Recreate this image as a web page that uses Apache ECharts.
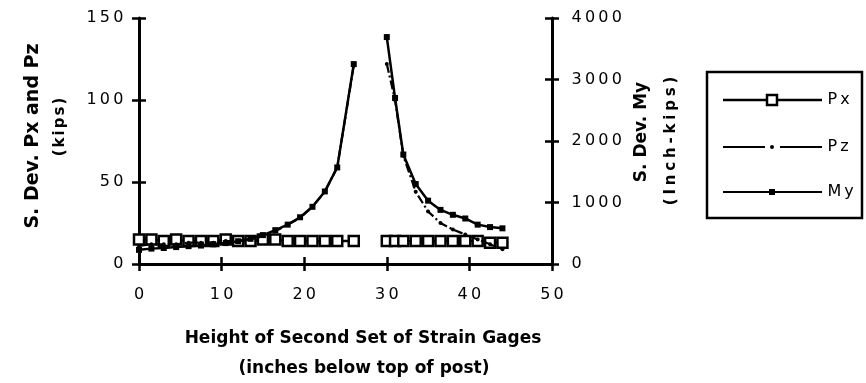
<!DOCTYPE html>
<html>
<head>
<meta charset="utf-8">
<script src="https://cdn.jsdelivr.net/npm/echarts@6/dist/echarts.min.js"></script>
<style>
  html, body { margin: 0; padding: 0; background: #fff; }
  #chart { width: 866px; height: 383px; }
</style>
</head>
<body>
<div id="chart"></div>
<script>
// Gage heights (inches below top of post), in two runs either side of the gap
var heightsLeft  = [0, 1.5, 3, 4.5, 6, 7.5, 9, 10.5, 12, 13.5, 15, 16.5, 18, 19.5, 21, 22.5, 24, 26];
var heightsRight = [30, 31, 32, 33.5, 35, 36.5, 38, 39.5, 41, 42.5, 44];

// Standard deviation of Px (kips)
var pxLeft  = [15, 15, 14, 15, 14, 14, 14, 15, 14, 14, 15, 15, 14, 14, 14, 14, 14, 14];
var pxRight = [14, 14, 14, 14, 14, 14, 14, 14, 14, 13, 13];

// Standard deviation of Pz (kips)
var pzLeft  = [11, 12, 12, 12, 13, 13, 13, 14, 14, 15, 17, 20, 24, 28, 35, 44, 59, 121];
var pzRight = [122, 100, 66, 44, 32, 25, 21, 18, 15, 12, 9];

// Standard deviation of My (inch-kips)
var myLeft  = [230, 250, 260, 275, 290, 300, 320, 340, 370, 410, 470, 550, 640, 760, 930, 1180, 1570, 3250];
var myRight = [3690, 2700, 1780, 1300, 1030, 880, 800, 740, 640, 600, 580];

// Axis ticks
var xTicks = { min: 0, max: 50, interval: 10 };
var kipTicks = { min: 0, max: 150, interval: 50 };
var momentTicks = { min: 0, max: 4000, interval: 1000 };

function pairs(xs, ys) {
  return xs.map(function (x, i) { return [x, ys[i]]; });
}
// join the two runs with an empty point so the line breaks over the gap
function joined(left, right) {
  return pairs(heightsLeft, left).concat([['-', '-']], pairs(heightsRight, right));
}

// spaced-out digits, drawn as rich-text fragments
function spaced(v) {
  return String(v).split('').map(function (c) { return '{d|' + c + '}'; }).join('');
}
var digitRich = { d: { fontFamily: 'DejaVu Sans', fontSize: 16, color: '#000', padding: [0, 1.6] } };

function spacedText(txt, cls) {
  return txt.split('').map(function (c) { return '{' + cls + '|' + c + '}'; }).join('');
}

var INK = '#000';
var axisLine = { show: true, lineStyle: { color: INK, width: 3 } };
var outTick = { show: true, length: 7, lineStyle: { color: INK, width: 2.5 } };
var inTick = { show: true, inside: true, length: 7, lineStyle: { color: INK, width: 2.5 } };
var plotBox = { left: 139, right: 314, top: 18, bottom: 119, containLabel: false };

var chart = echarts.init(document.getElementById('chart'), null, { renderer: 'canvas' });

var option = {
  backgroundColor: '#fff',
  animation: false,
  // grid 0 carries the data and the outer ticks; grid 1 (same box) adds the inner half of each tick
  grid: [plotBox, plotBox],
  xAxis: [
    {
      gridIndex: 0, type: 'value', position: 'bottom', min: xTicks.min, max: xTicks.max, interval: xTicks.interval,
      axisLine: axisLine, axisTick: outTick, splitLine: { show: false },
      axisLabel: { margin: 23, formatter: spaced, rich: digitRich }
    },
    {
      gridIndex: 1, type: 'value', position: 'bottom', min: xTicks.min, max: xTicks.max, interval: xTicks.interval,
      axisLine: { show: false }, axisTick: inTick, splitLine: { show: false }, axisLabel: { show: false }
    }
  ],
  yAxis: [
    {
      gridIndex: 0, type: 'value', position: 'left', min: kipTicks.min, max: kipTicks.max, interval: kipTicks.interval,
      axisLine: axisLine, axisTick: outTick, splitLine: { show: false },
      axisLabel: { margin: 14, formatter: spaced, rich: digitRich }
    },
    {
      gridIndex: 0, type: 'value', position: 'right', min: momentTicks.min, max: momentTicks.max, interval: momentTicks.interval,
      axisLine: axisLine, axisTick: outTick, splitLine: { show: false },
      axisLabel: { margin: 18, formatter: spaced, rich: digitRich }
    },
    {
      gridIndex: 1, type: 'value', position: 'left', min: kipTicks.min, max: kipTicks.max, interval: kipTicks.interval,
      axisLine: { show: false }, axisTick: inTick, splitLine: { show: false }, axisLabel: { show: false }
    },
    {
      gridIndex: 1, type: 'value', position: 'right', min: momentTicks.min, max: momentTicks.max, interval: momentTicks.interval,
      axisLine: { show: false }, axisTick: inTick, splitLine: { show: false }, axisLabel: { show: false }
    }
  ],
  series: [
    {
      name: 'Px', type: 'line', xAxisIndex: 0, yAxisIndex: 0,
      data: joined(pxLeft, pxRight),
      symbol: 'rect', symbolSize: 10,
      itemStyle: { color: '#fff', borderColor: INK, borderWidth: 2.5 },
      lineStyle: { color: INK, width: 2.5 },
      connectNulls: false, z: 3
    },
    {
      name: 'Pz', type: 'line', xAxisIndex: 0, yAxisIndex: 0,
      data: joined(pzLeft, pzRight),
      symbol: 'circle', symbolSize: 4,
      itemStyle: { color: INK, borderWidth: 0 },
      lineStyle: { color: INK, width: 2.2, type: [9, 3, 2, 3] },
      connectNulls: false, z: 4
    },
    {
      name: 'My', type: 'line', xAxisIndex: 0, yAxisIndex: 1,
      data: joined(myLeft, myRight),
      symbol: 'rect', symbolSize: 6,
      itemStyle: { color: INK, borderWidth: 0 },
      lineStyle: { color: INK, width: 2.5 },
      connectNulls: false, z: 5
    }
  ],
  graphic: [
    // axis titles
    {
      type: 'text', x: 33, y: 136, rotation: Math.PI / 2,
      style: { text: 'S. Dev. Px and Pz', font: 'bold 19px "DejaVu Sans"', fill: INK, align: 'center', verticalAlign: 'middle' }
    },
    {
      type: 'text', x: 60, y: 127, rotation: Math.PI / 2,
      style: {
        text: spacedText('(kips)', 'k'), fill: INK, align: 'center', verticalAlign: 'middle',
        rich: { k: { font: 'bold 15px "DejaVu Sans"', fill: INK, padding: [0, 1] } }
      }
    },
    {
      type: 'text', x: 642, y: 132, rotation: Math.PI / 2,
      style: { text: 'S. Dev. My', font: 'bold 17px "DejaVu Sans"', fill: INK, align: 'center', verticalAlign: 'middle' }
    },
    {
      type: 'text', x: 671, y: 141, rotation: Math.PI / 2,
      style: {
        text: spacedText('(Inch-kips)', 'k'), fill: INK, align: 'center', verticalAlign: 'middle',
        rich: { k: { font: 'bold 15px "DejaVu Sans"', fill: INK, padding: [0, 1.9] } }
      }
    },
    {
      type: 'text', x: 363, y: 339,
      style: { text: 'Height of Second Set of Strain Gages', font: 'bold 17px "DejaVu Sans"', fill: INK, align: 'center', verticalAlign: 'middle' }
    },
    {
      type: 'text', x: 364, y: 369,
      style: { text: '(inches below top of post)', font: 'bold 17px "DejaVu Sans"', fill: INK, align: 'center', verticalAlign: 'middle' }
    },
    // legend box
    {
      type: 'rect', shape: { x: 707, y: 72, width: 155, height: 146 },
      style: { fill: '#fff', stroke: INK, lineWidth: 2.5 }
    },
    // Px key
    { type: 'line', shape: { x1: 723, y1: 100, x2: 822, y2: 100 }, style: { stroke: INK, lineWidth: 2.5 } },
    { type: 'rect', shape: { x: 767, y: 95, width: 10, height: 10 }, style: { fill: '#fff', stroke: INK, lineWidth: 2.5 } },
    {
      type: 'text', x: 826, y: 100,
      style: { text: spacedText('Px', 'l'), fill: INK, align: 'left', verticalAlign: 'middle',
        rich: { l: { font: '16px "DejaVu Sans"', fill: INK, padding: [0, 1.5] } } }
    },
    // Pz key
    { type: 'line', shape: { x1: 723, y1: 147, x2: 765, y2: 147 }, style: { stroke: INK, lineWidth: 2 } },
    { type: 'circle', shape: { cx: 772, cy: 147, r: 2 }, style: { fill: INK } },
    { type: 'line', shape: { x1: 780, y1: 147, x2: 822, y2: 147 }, style: { stroke: INK, lineWidth: 2 } },
    {
      type: 'text', x: 826, y: 147,
      style: { text: spacedText('Pz', 'l'), fill: INK, align: 'left', verticalAlign: 'middle',
        rich: { l: { font: '16px "DejaVu Sans"', fill: INK, padding: [0, 1.5] } } }
    },
    // My key
    { type: 'line', shape: { x1: 723, y1: 192, x2: 822, y2: 192 }, style: { stroke: INK, lineWidth: 2 } },
    { type: 'rect', shape: { x: 769, y: 189, width: 6, height: 6 }, style: { fill: INK } },
    {
      type: 'text', x: 826, y: 192,
      style: { text: spacedText('My', 'l'), fill: INK, align: 'left', verticalAlign: 'middle',
        rich: { l: { font: '16px "DejaVu Sans"', fill: INK, padding: [0, 1.5] } } }
    }
  ]
};

chart.setOption(option);
</script>
</body>
</html>
